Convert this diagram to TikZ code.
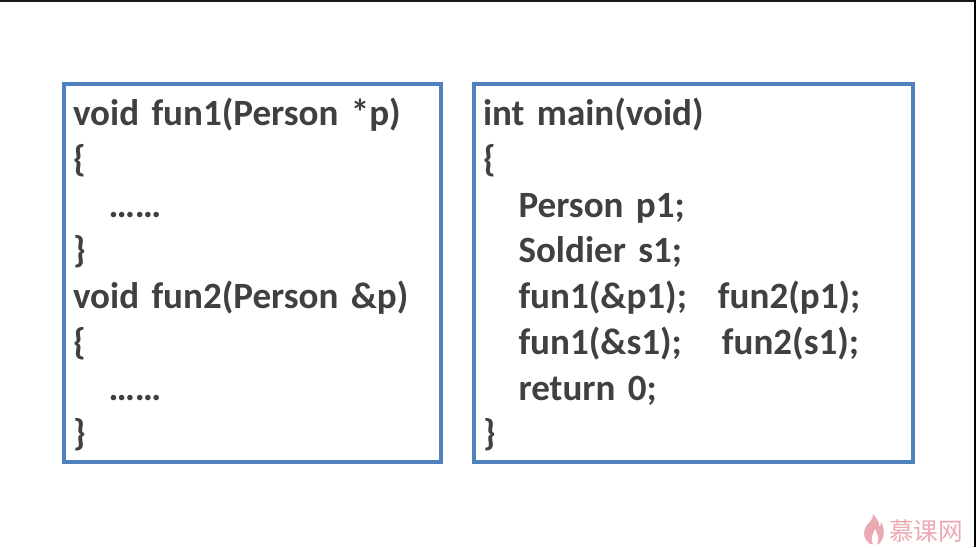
\documentclass[tikz,border=0pt]{standalone}
\usepackage{fontspec}
\setmainfont{Carlito}
\newfontfamily\cjk{Noto Sans CJK SC}
\usepackage{tikz}
\usetikzlibrary{positioning}
\definecolor{boxblue}{RGB}{79,129,189}
\definecolor{codegray}{RGB}{64,64,64}
\definecolor{markpink}{RGB}{235,170,178}
\newlength{\pxu}
\setlength{\pxu}{0.75pt}
\newcommand{\ind}{\hspace*{35.5\pxu}}
\newcommand{\lm}{\hspace*{9.5\pxu}}
\newcommand{\topline}{\rule{0pt}{22.8pt}}

\begin{document}
\begin{tikzpicture}[
  x=0.75pt,y=-0.75pt,
  codebox/.style={draw=boxblue,line width=4\pxu,fill=white,align=left,
    inner xsep=0pt,inner ysep=0pt,text=codegray,font=\bfseries\fontsize{27.8pt}{34.3pt}\selectfont,
    minimum height=378\pxu},
  wmark/.style={text=markpink,font=\cjk\fontsize{18.5pt}{18.5pt}\selectfont,inner sep=0pt}
]
  \useasboundingbox (0,0) rectangle (976,547);
  \fill[black!90] (0,0) rectangle (976,2);
  \fill[black] (974,0) rectangle (976,547);
  \node[codebox,anchor=north west,text width=377\pxu,minimum width=377\pxu] (funs) at (61.5,82.3) {\topline\lm void fun1(Person *p)\\
    \lm\{\\
    \lm\ind ……\\
    \lm\}\\
    \lm void fun2(Person \&p)\\
    \lm\{\\
    \lm\ind ……\\
    \lm\}};
  \node[codebox,anchor=north west,text width=439\pxu,minimum width=439\pxu] (main) at ([xshift=29\pxu]funs.north east) {\topline\lm int main(void)\\
    \lm\{\\
    \lm\ind Person p1;\\
    \lm\ind Soldier s1;\\
    \lm\ind fun1(\&p1);\hspace{31\pxu}fun2(p1);\\
    \lm\ind fun1(\&s1);\hspace{40\pxu}fun2(s1);\\
    \lm\ind return 0;\\
    \lm\}};
  % watermark
  \fill[markpink] (873,514) .. controls (878,520) and (880,524) .. (879,527) .. controls (881,526) and (881,524) .. (881,522) .. controls (885,528) and (885,538) .. (879,544) -- (870,544) .. controls (862,538) and (863,530) .. (867,525) .. controls (870,522) and (873,519) .. (873,514) -- cycle;
  \fill[white] (875,529) .. controls (877,534) and (880,537) .. (877,544) -- (873,544) .. controls (870,539) and (873,534) .. (875,529) -- cycle;
  \node[wmark] (logo) at (926,531) {慕课网};
\end{tikzpicture}
\end{document}
